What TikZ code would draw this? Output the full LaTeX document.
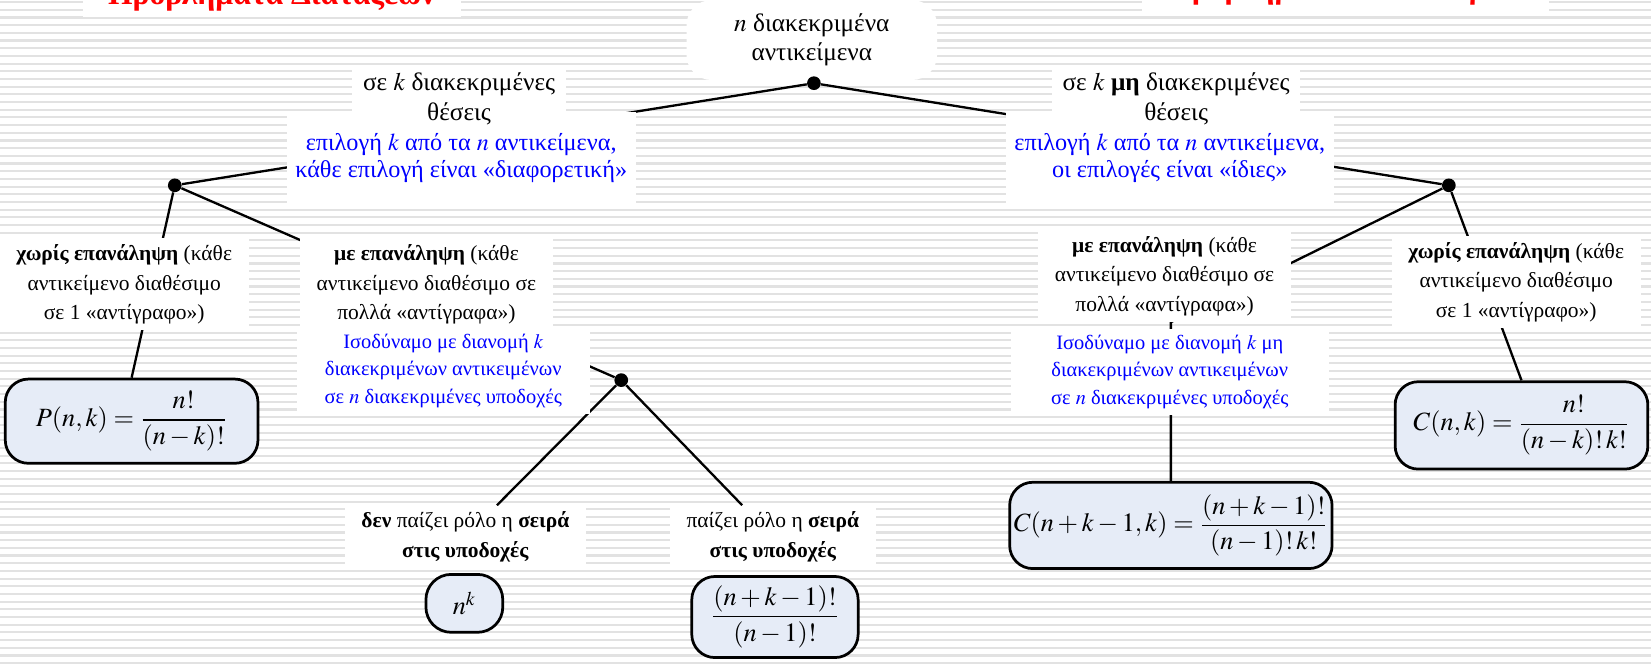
\documentclass[tikz,border=0pt]{standalone}
\usepackage{mathptmx}
\usepackage{fontspec}
\setmainfont{Liberation Serif}
\usetikzlibrary{backgrounds}

\definecolor{leafblue}{RGB}{230,236,247}
\definecolor{stripegray}{RGB}{226,226,226}

\begin{document}
\begin{tikzpicture}[x=0.5pt, y=-0.5pt]
% ---------------------------------------------------------
% Dimensions (1 unit = half a point, y grows downwards)
% ---------------------------------------------------------
\def\PicW{1568}       % picture width
\def\PicH{634}        % picture height
\def\StripeStep{7.3}  % distance of the background stripes

% ---------------------------------------------------------
% Styles
% ---------------------------------------------------------
\tikzset{
  heading text/.style={fill=white, text=red, anchor=base,
    inner xsep=12pt, inner ysep=3pt, font=\bfseries\fontsize{15}{18}\selectfont},
  title text/.style={fill=white, align=center, inner xsep=5pt, inner ysep=2pt,
    font=\fontsize{12}{14}\selectfont},
  note text/.style={fill=white, align=center, text=blue, inner xsep=4pt,
    minimum height=44pt, font=\fontsize{11.5}{13}\selectfont},
  case text/.style={fill=white, align=center, inner xsep=8pt, inner ysep=3pt,
    font=\fontsize{10.2}{14}\selectfont},
  case note/.style={case text, text=blue, font=\fontsize{9.7}{13}\selectfont},
  leaf box/.style={draw=black, line width=1.3pt, fill=leafblue,
    rounded corners=11pt, inner sep=2pt, font=\fontsize{12.5}{14}\selectfont},
  branch dot/.style={circle, fill=black, inner sep=0pt, minimum size=6.5pt},
  tree line/.style={line width=1.1pt}
}

\useasboundingbox (0,0) rectangle (\PicW,\PicH);
\clip (0,0) rectangle (\PicW,\PicH);

% =========================================================
% 1) HEADINGS (cut by the top edge)
% =========================================================
\node[heading text] (permhead) at (258,4) {Προβλήματα Διατάξεων};
\node[heading text] (combhead) at (1278,-1) {Προβλήματα Συνδυασμών};

% =========================================================
% 2) ROOT AND FIRST LEVEL
% =========================================================
\node[title text, rounded corners=12pt, minimum width=119pt, minimum height=38pt]
  (root) at (771,38) {$n$ διακεκριμένα\\αντικείμενα};
\node[branch dot] (rootdot) at (773,79) {};

% distinct places (note first, title on top of it)
\node[note text, minimum width=157pt] (lnote) at (438,150)
  {επιλογή $k$ από τα $n$ αντικείμενα,\\κάθε επιλογή είναι «διαφορετική»};
\node[title text] (ltitle) at (436,94) {σε $k$ διακεκριμένες\\θέσεις};
\node[branch dot] (ldot) at (166,176) {};

% non distinct places
\node[note text, minimum width=151pt] (rnote) at (1111,150)
  {επιλογή $k$ από τα $n$ αντικείμενα,\\οι επιλογές είναι «ίδιες»};
\node[title text] (rtitle) at (1117,94) {σε $k$ \textbf{μη} διακεκριμένες\\θέσεις};
\node[branch dot] (rdot) at (1376,176) {};

% =========================================================
% 3) LEFT BRANCH
% =========================================================
\node[case text] (lfree) at (118,270)
  {\textbf{χωρίς επανάληψη} (κάθε\\αντικείμενο διαθέσιμο\\σε 1 «αντίγραφο»)};
\node[case text] (lrep) at (405,270)
  {\textbf{με επανάληψη} (κάθε\\αντικείμενο διαθέσιμο σε\\πολλά «αντίγραφα»)};
\node[case note, minimum width=139pt] (lrepnote) at (421,352)
  {Ισοδύναμο με διανομή $k$\\διακεκριμένων αντικειμένων\\σε $n$ διακεκριμένες υποδοχές};
\node[branch dot] (mdot) at (590,361) {};

\node[case text] (noorder) at (442,510)
  {\textbf{δεν} παίζει ρόλο η \textbf{σειρά}\\\textbf{στις υποδοχές}};
\node[case text] (order) at (734,510)
  {παίζει ρόλο η \textbf{σειρά}\\\textbf{στις υποδοχές}};

\node[leaf box, minimum width=120pt, minimum height=40pt] (pbox) at (125,400)
  {$\displaystyle P(n,k)=\frac{n!}{(n-k)!}$};
\node[leaf box, rounded corners=12pt, minimum width=36.5pt, minimum height=27.5pt]
  (powbox) at (441,573) {$n^{k}$};
\node[leaf box, minimum width=79pt, minimum height=38.5pt] (orderbox) at (736,586)
  {$\displaystyle \frac{(n+k-1)!}{(n-1)!}$};

% =========================================================
% 4) RIGHT BRANCH
% =========================================================
\node[case text] (rrep) at (1106,262)
  {\textbf{με επανάληψη} (κάθε\\αντικείμενο διαθέσιμο σε\\πολλά «αντίγραφα»)};
\node[case note, minimum width=151pt] (rrepnote) at (1111,353)
  {Ισοδύναμο με διανομή $k$ μη\\διακεκριμένων αντικειμένων\\σε $n$ διακεκριμένες υποδοχές};
\coordinate (rjoin) at (1112,306);
\node[case text] (rfree) at (1440,268)
  {\textbf{χωρίς επανάληψη} (κάθε\\αντικείμενο διαθέσιμο\\σε 1 «αντίγραφο»)};

\node[leaf box, minimum width=151pt, minimum height=41pt] (crepbox) at (1112,499)
  {$\displaystyle C(n+k-1,k)=\frac{(n+k-1)!}{(n-1)!\,k!}$};
\node[leaf box, minimum width=120pt, minimum height=41.5pt] (cbox) at (1445,404)
  {$\displaystyle C(n,k)=\frac{n!}{(n-k)!\,k!}$};

% =========================================================
% 5) STRIPES AND TREE LINES (behind the boxes)
% =========================================================
\begin{scope}[on background layer]
  \foreach \k in {0,...,87} {
    \draw[stripegray, line width=1pt]
      (0,{\k*\StripeStep+2}) -- (\PicW,{\k*\StripeStep+2});
  }
  \draw[tree line] (rootdot) -- (ldot);
  \draw[tree line] (rootdot) -- (rdot);
  \draw[tree line] (ldot) -- (pbox.north);
  \draw[tree line] (ldot) -- (mdot);
  \draw[tree line] (mdot) -- (noorder);
  \draw[tree line] (mdot) -- (order);
  \draw[tree line] (rdot) -- (cbox.north);
  \draw[tree line] (rdot) -- (rjoin) -- (crepbox);
\end{scope}

\end{tikzpicture}
\end{document}
